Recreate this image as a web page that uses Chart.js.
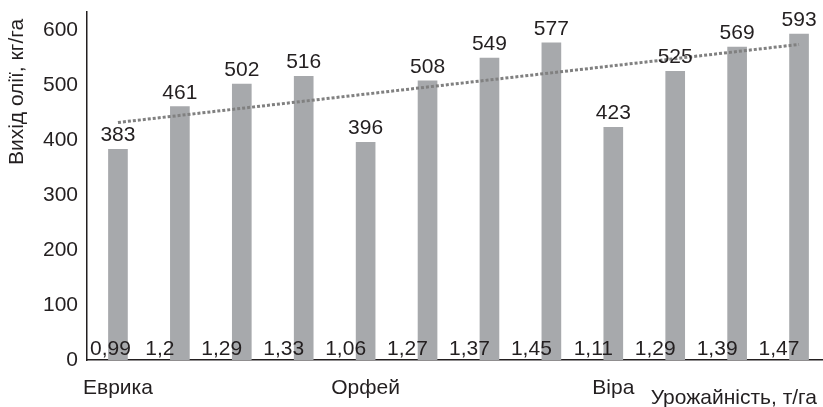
<!DOCTYPE html>
<html><head><meta charset="utf-8">
<script src="https://cdn.jsdelivr.net/npm/chart.js@4.4.1/dist/chart.umd.min.js"></script>
<style>
html,body{margin:0;padding:0;background:#fff;overflow:hidden;width:823px;height:407px}
#wrap{width:823px;height:407px;overflow:hidden;position:relative}
canvas{display:block}
</style></head>
<body><div id="wrap"><canvas id="c" width="830" height="407"></canvas></div>
<script>
// ---- data ----
const varieties = ['Еврика', 'Орфей', 'Віра'];
const barsPerVariety = 4;
const yieldTHa = [0.99, 1.2, 1.29, 1.33, 1.06, 1.27, 1.37, 1.45, 1.11, 1.29, 1.39, 1.47];
const oilKgHa = [383, 461, 502, 516, 396, 508, 549, 577, 423, 525, 569, 593];
const trendEnds = [432, 574];
const yTicks = [0, 100, 200, 300, 400, 500, 600];
const yTitle = 'Вихід олії, кг/га';
const xTitle = 'Урожайність, т/га';

// ---- styles ----
const FONT = '"Liberation Sans", Arial, sans-serif';
const TEXT = '#231f20';
const BAR = '#a7a9ac';
const TREND = '#808080';
const FS = 21;

const fmt = v => String(v).replace('.', ',');
const labels = yieldTHa.map(fmt);
const trendData = oilKgHa.map((_, i) => i === 0 ? trendEnds[0] : (i === oilKgHa.length - 1 ? trendEnds[1] : null));

const labelPlugin = {
  id: 'labels',
  afterDatasetsDraw(chart) {
    const ctx = chart.ctx;
    const meta = chart.getDatasetMeta(0);
    const ys = chart.scales.y;
    const base = ys.getPixelForValue(0);
    ctx.save();
    ctx.fillStyle = TEXT;
    ctx.font = FS + 'px ' + FONT;
    ctx.textAlign = 'center';
    ctx.textBaseline = 'alphabetic';
    meta.data.forEach((bar, i) => {
      ctx.fillText(String(oilKgHa[i]), bar.x, bar.y - 8);
      const txt = fmt(yieldTHa[i]);
      const w = ctx.measureText(txt).width;
      const x = Math.max(bar.x - 20, chart.chartArea.left + w / 2 + 3);
      ctx.fillText(txt, x, base - 5);
    });
    ctx.textAlign = 'right';
    ctx.fillText(xTitle, 817, 404);
    ctx.translate(17, 92);
    ctx.rotate(-Math.PI / 2);
    ctx.textAlign = 'center';
    ctx.textBaseline = 'middle';
    ctx.fillText(yTitle, 0, 0);
    ctx.restore();
  }
};

Chart.defaults.font.family = FONT;
Chart.defaults.color = TEXT;

new Chart(document.getElementById('c'), {
  data: {
    labels: labels,
    datasets: [
      {
        type: 'bar',
        data: oilKgHa,
        backgroundColor: BAR,
        borderWidth: 0,
        barThickness: 19,
        order: 2
      },
      {
        type: 'line',
        data: trendData,
        spanGaps: true,
        borderColor: TREND,
        borderWidth: 3,
        borderDash: [3, 2],
        borderCapStyle: 'butt',
        pointRadius: 0,
        fill: false,
        order: 1
      }
    ]
  },
  options: {
    responsive: false,
    animation: false,
    layout: { padding: { top: 12, left: 0, right: 0, bottom: 0 } },
    plugins: { legend: { display: false }, tooltip: { enabled: false } },
    scales: {
      x: {
        type: 'category',
        offset: true,
        grid: { display: false, drawTicks: false },
        border: { display: true, color: TEXT, width: 1.5 },
        ticks: {
          autoSkip: false, maxRotation: 0, padding: 18,
          font: { size: FS, lineHeight: 1 }, color: TEXT,
          callback: (v, i) => i % barsPerVariety === 0 ? varieties[i / barsPerVariety] : ''
        },
        afterFit: s => { s.height = 47; }
      },
      y: {
        min: 0, max: 633,
        grid: { display: false, drawTicks: false },
        border: { display: true, color: TEXT, width: 1.5 },
        ticks: { padding: 9, font: { size: FS, lineHeight: 0.2 }, color: TEXT },
        afterBuildTicks: s => { s.ticks = yTicks.map(v => ({ value: v })); },
        afterFit: s => { s.width = 87; }
      }
    }
  },
  plugins: [labelPlugin]
});
</script>
</body></html>
